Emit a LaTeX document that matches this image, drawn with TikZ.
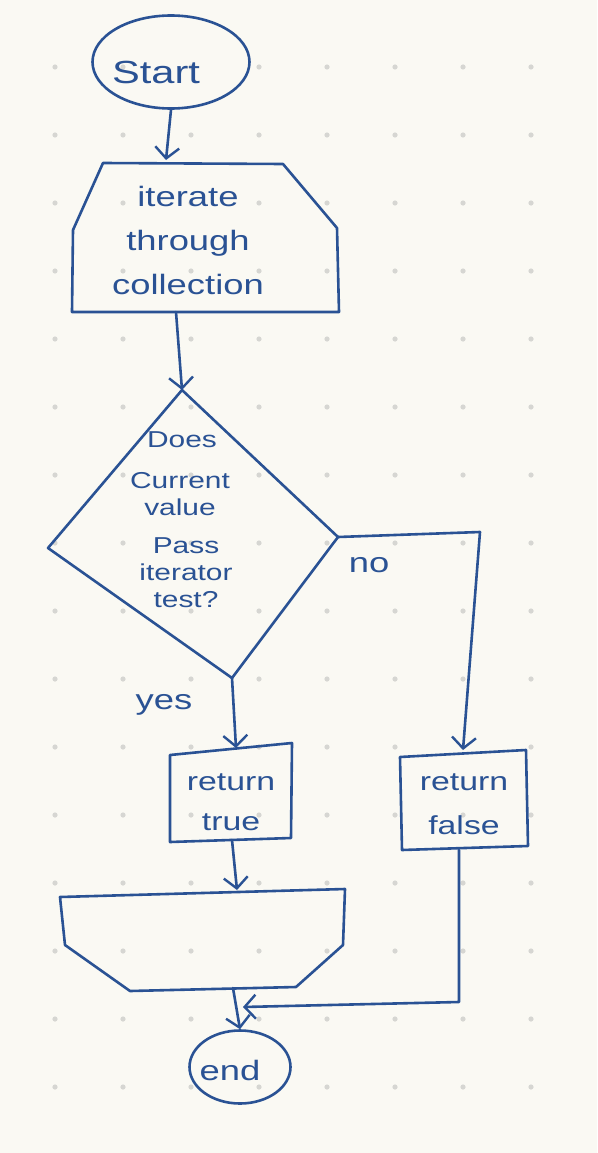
\documentclass[tikz,border=0pt]{standalone}
\usepackage{fontspec}
\setmainfont[FakeStretch=1.3]{Liberation Sans}
\usetikzlibrary{arrows.meta,shapes.geometric}
\definecolor{ink}{RGB}{42,82,148}
\definecolor{paper}{RGB}{250,249,243}
\definecolor{dotc}{RGB}{214,214,210}
\begin{document}
\begin{tikzpicture}[x=1pt,y=-1pt,
  inkline/.style={draw=ink,line width=2.6pt,line cap=round,line join=round},
  flow/.style={inkline,-{Straight Barb[length=11pt,width=24pt,line width=2.4pt]}},
  lbl/.style={text=ink,align=center,inner sep=0pt,font=\fontsize{28}{40}\selectfont},
  small/.style={lbl,font=\fontsize{23}{27}\selectfont},
  blob/.style={ellipse,inkline,inner sep=0pt}]
\fill[paper] (0,0) rectangle (597,1153);
\useasboundingbox (0,0) rectangle (597,1153);
\foreach \i in {0,...,7} \foreach \j in {0,...,15} \fill[dotc] ({55+68*\i},{67+68*\j}) circle (2.6);

% start
\node[blob,minimum width=157pt,minimum height=93pt] (start) at (171,62) {};
\node[lbl,font=\fontsize{32}{36}\selectfont] (starttxt) at (156,72) {Start};

% iterate (loop limit top)
\coordinate (i1) at (103,163);
\coordinate (i2) at (283,164);
\coordinate (i3) at (337,228);
\coordinate (i4) at (339,312);
\coordinate (i5) at (72,312);
\coordinate (i6) at (73,230);
\coordinate (itop) at (166,160);
\coordinate (ibot) at (176,312);
\draw[inkline] (i1)--(i2)--(i3)--(i4)--(i5)--(i6)--cycle;
\node[lbl,font=\fontsize{28}{44}\selectfont] (itxt) at (188,240) {iterate\\through\\collection};
\draw[flow] (start.south) -- (itop);

% decision
\coordinate (dt) at (182,390);
\coordinate (dl) at (48,548);
\coordinate (dr) at (338,537);
\coordinate (db) at (232,678);
\draw[inkline] (dt)--(dr)--(db)--(dl)--cycle;
\draw[flow] (ibot) -- (dt);
\node[small] (q1) at (182,440) {Does};
\node[small] (q2) at (180,494) {Current\\value};
\node[small] (q3) at (186,573) {Pass\\iterator\\test?};

% labels
\node[lbl] (nolbl) at (369,565) {no};
\node[lbl] (yeslbl) at (164,705) {yes};

% return true
\coordinate (t1) at (170,755);
\coordinate (t2) at (292,743);
\coordinate (t3) at (291,838);
\coordinate (t4) at (170,842);
\draw[inkline] (t1)--(t2)--(t3)--(t4)--cycle;
\node[lbl,font=\fontsize{26}{40}\selectfont] (ttxt) at (231,802) {return\\true};
\coordinate (ttop) at (236,748);
\coordinate (tbot) at (232,840);
\draw[flow] (db) -- (ttop);

% return false
\coordinate (f1) at (400,757);
\coordinate (f2) at (526,750);
\coordinate (f3) at (528,846);
\coordinate (f4) at (402,850);
\draw[inkline] (f1)--(f2)--(f3)--(f4)--cycle;
\node[lbl,font=\fontsize{26}{44}\selectfont] (ftxt) at (464,804) {return\\false};
\coordinate (ftop) at (463,750);
\coordinate (fbot) at (459,850);
\coordinate (ncorner) at (480,532);
\draw[flow] (dr) -- (ncorner) -- (ftop);

% loop limit bottom
\coordinate (l1) at (60,897);
\coordinate (l2) at (345,889);
\coordinate (l3) at (343,945);
\coordinate (l4) at (296,987);
\coordinate (l5) at (130,991);
\coordinate (l6) at (65,945);
\draw[inkline] (l1)--(l2)--(l3)--(l4)--(l5)--(l6)--cycle;
\coordinate (ltop) at (237,890);
\coordinate (lbot) at (233,988);
\draw[flow] (tbot) -- (ltop);

% end
\node[blob,minimum width=101pt,minimum height=73pt] (endn) at (240,1067) {};
\node[lbl,font=\fontsize{28}{30}\selectfont] (endtxt) at (230,1070) {end};
\draw[flow] (lbot) -- (endn.north);
\coordinate (fcorner) at (459,1002);
\coordinate (fjoin) at (243,1007);
\draw[flow] (fbot) -- (fcorner) -- (fjoin);
\end{tikzpicture}
\end{document}
